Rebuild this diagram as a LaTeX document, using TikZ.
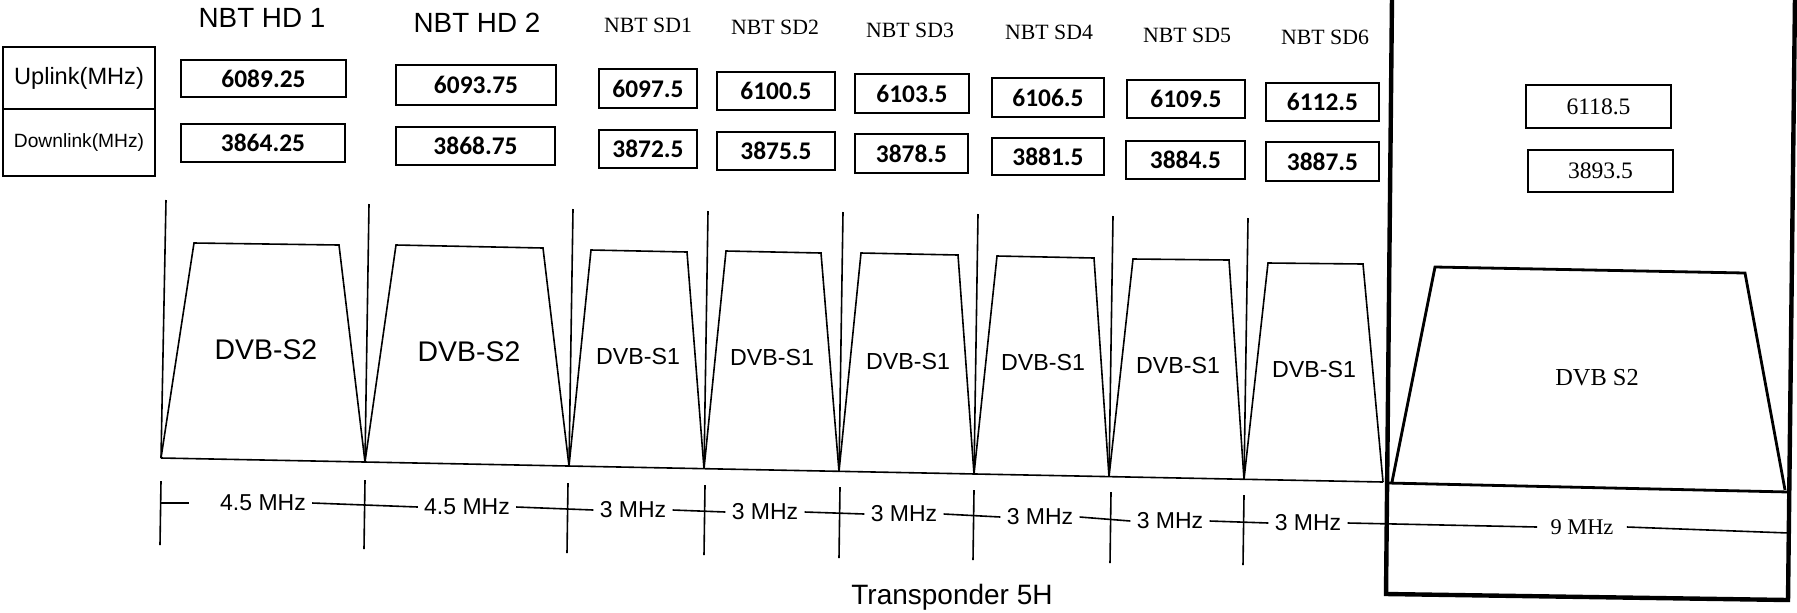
\documentclass[tikz,border=0pt]{standalone}
\usepackage{fontspec}
\setmainfont{Liberation Serif}
\newfontfamily\arialf{Liberation Sans}
\newfontfamily\calif{Carlito}
\usetikzlibrary{fit}
\begin{document}
\begin{tikzpicture}[x=0.5pt,y=-0.5pt,
  ln/.style={line width=0.8pt, line join=miter},
  cellbox/.style={draw, line width=0.8pt, inner sep=0pt},
  valtext/.style={inner sep=0pt, font=\calif\bfseries\fontsize{12.7}{15}\selectfont},
  tvaltext/.style={inner sep=0pt, font=\fontsize{11.8}{14}\selectfont},
  hdtitle/.style={font=\arialf\fontsize{13.9}{16}\selectfont, inner sep=0pt},
  sdtitle/.style={font=\fontsize{10.9}{13}\selectfont, inner sep=0pt},
  dvbtwo/.style={font=\arialf\fontsize{14.2}{16}\selectfont, inner sep=0pt},
  dvbone/.style={font=\arialf\fontsize{11.6}{14}\selectfont, inner sep=0pt},
  bwlabel/.style={font=\arialf\fontsize{11.5}{14}\selectfont, inner xsep=3pt, inner ysep=0pt},
  panelframe/.style={line width=2.2pt, line join=miter},
  panelline/.style={line width=1.4pt, line join=miter},
]
\useasboundingbox (0,0) rectangle (1797,612);

% ---------- row headers ----------
\node[cellbox, fit={(3,47) (155,109)}] (uphdr) {};
\node[cellbox, fit={(3,109) (155,176)}] (dnhdr) {};
\node[inner sep=0pt, font=\arialf\fontsize{11.8}{14}\selectfont] (uphdrt) at (uphdr.center) {Uplink(MHz)};
\node[inner sep=0pt, font=\arialf\fontsize{9.6}{12}\selectfont] (dnhdrt) at (dnhdr.center) {Downlink(MHz)};

% ---------- channel titles ----------
\node[hdtitle] (hd1) at (262,18) {NBT HD 1};
\node[hdtitle] (hd2) at (477,23) {NBT HD 2};
\node[sdtitle] (sd1) at (648,25) {NBT SD1};
\node[sdtitle] (sd2) at (775,27) {NBT SD2};
\node[sdtitle] (sd3) at (910,30) {NBT SD3};
\node[sdtitle] (sd4) at (1049,32) {NBT SD4};
\node[sdtitle] (sd5) at (1187,35) {NBT SD5};
\node[sdtitle] (sd6) at (1325,37) {NBT SD6};

% ---------- frequency boxes ----------
\node[cellbox, fit={(181,60) (346,97)}] (u1) {};
\node[cellbox, fit={(181,124) (345,162)}] (d1) {};
\node[cellbox, fit={(396,65) (556,105)}] (u2) {};
\node[cellbox, fit={(396,127) (555,165)}] (d2) {};
\node[cellbox, fit={(599,69) (697,108)}] (u3) {};
\node[cellbox, fit={(599,130) (697,168)}] (d3) {};
\node[cellbox, fit={(717,72) (835,110)}] (u4) {};
\node[cellbox, fit={(717,132) (835,170)}] (d4) {};
\node[cellbox, fit={(855,74) (969,113)}] (u5) {};
\node[cellbox, fit={(855,134) (968,173)}] (d5) {};
\node[cellbox, fit={(992,78) (1104,117)}] (u6) {};
\node[cellbox, fit={(992,138) (1104,175)}] (d6) {};
\node[cellbox, fit={(1127,80) (1245,118)}] (u7) {};
\node[cellbox, fit={(1126,141) (1245,179)}] (d7) {};
\node[cellbox, fit={(1266,83) (1379,121)}] (u8) {};
\node[cellbox, fit={(1266,142) (1379,181)}] (d8) {};
\node[cellbox, fit={(1526,85) (1671,128)}] (u9) {};
\node[cellbox, fit={(1528,150) (1673,192)}] (d9) {};

\node[valtext] (u1t) at (u1.center) {6089.25};
\node[valtext] (d1t) at (d1.center) {3864.25};
\node[valtext] (u2t) at (u2.center) {6093.75};
\node[valtext] (d2t) at (d2.center) {3868.75};
\node[valtext] (u3t) at (u3.center) {6097.5};
\node[valtext] (d3t) at (d3.center) {3872.5};
\node[valtext] (u4t) at (u4.center) {6100.5};
\node[valtext] (d4t) at (d4.center) {3875.5};
\node[valtext] (u5t) at (u5.center) {6103.5};
\node[valtext] (d5t) at (d5.center) {3878.5};
\node[valtext] (u6t) at (u6.center) {6106.5};
\node[valtext] (d6t) at (d6.center) {3881.5};
\node[valtext] (u7t) at (u7.center) {6109.5};
\node[valtext] (d7t) at (d7.center) {3884.5};
\node[valtext] (u8t) at (u8.center) {6112.5};
\node[valtext] (d8t) at (d8.center) {3887.5};
\node[tvaltext] (u9t) at (u9.center) {6118.5};
\node[tvaltext] (d9t) at (d9.center) {3893.5};

% ---------- spectrum ----------
\coordinate (B0) at (161,458);
\coordinate (B1) at (365,462);
\coordinate (B2) at (569,466);
\coordinate (B3) at (704,468.7);
\coordinate (B4) at (839,471.4);
\coordinate (B5) at (974,474);
\coordinate (B6) at (1109,476.7);
\coordinate (B7) at (1244,479.3);
\coordinate (B8) at (1383,482);

\coordinate (V0) at (166,200);
\coordinate (V1) at (369,204);
\coordinate (V2) at (573,209);
\coordinate (V3) at (708,211);
\coordinate (V4) at (843,212);
\coordinate (V5) at (978,214);
\coordinate (V6) at (1113,216);
\coordinate (V7) at (1248,218);

\foreach \i in {0,...,7} \draw[ln] (V\i) -- (B\i);
\draw[ln] (B0) -- (B8);

\draw[ln] (B0) -- (194,243) -- (339,245) -- (B1);
\draw[ln] (B1) -- (396,245) -- (543,248) -- (B2);
\draw[ln] (B2) -- (591,250) -- (687,252) -- (B3);
\draw[ln] (B3) -- (726,251) -- (821,253) -- (B4);
\draw[ln] (B4) -- (861,253) -- (958,255) -- (B5);
\draw[ln] (B5) -- (997,256) -- (1094,258) -- (B6);
\draw[ln] (B6) -- (1133,259) -- (1229,260) -- (B7);
\draw[ln] (B7) -- (1268,263) -- (1363,264) -- (B8);

\node[dvbtwo] (s1) at (266,350) {DVB-S2};
\node[dvbtwo] (s2) at (469,352) {DVB-S2};
\node[dvbone] (s3) at (638,357) {DVB-S1};
\node[dvbone] (s4) at (772,358) {DVB-S1};
\node[dvbone] (s5) at (908,362) {DVB-S1};
\node[dvbone] (s6) at (1043,363) {DVB-S1};
\node[dvbone] (s7) at (1178,366) {DVB-S1};
\node[dvbone] (s8) at (1314,370) {DVB-S1};

% ---------- right panel (9 MHz carrier) ----------
\draw[panelframe] (1392,-4) -- (1386,594) -- (1788,600) -- (1795,-4);
\coordinate (PL) at (1388,483);
\coordinate (PR) at (1789,492);
\draw[panelline] (PL) -- (PR);
\draw[panelline] (1392,482) -- (1435,267) -- (1745,273) -- (1785,490);
\node[font=\fontsize{12.2}{14}\selectfont, inner sep=0pt] (s9) at (1597,378) {DVB S2};

% ---------- bandwidth scale ----------
\coordinate (k0t) at (161,481); \coordinate (k0b) at (160,545);
\coordinate (k1t) at (365,480); \coordinate (k1b) at (364,549);
\coordinate (k2t) at (568,483); \coordinate (k2b) at (567,553);
\coordinate (k3t) at (705,485); \coordinate (k3b) at (704,555);
\coordinate (k4t) at (840,487); \coordinate (k4b) at (839,558);
\coordinate (k5t) at (974,490); \coordinate (k5b) at (973,560);
\coordinate (k6t) at (1111,492); \coordinate (k6b) at (1110,563);
\coordinate (k7t) at (1244,495); \coordinate (k7b) at (1243,565);
\foreach \i in {0,...,7} \draw[ln] (k\i t) -- (k\i b);

\node[bwlabel] (m1) at (263,503) {4.5 MHz};
\node[bwlabel] (m2) at (467,507) {4.5 MHz};
\node[bwlabel] (m3) at (633,510) {3 MHz};
\node[bwlabel] (m4) at (765,512) {3 MHz};
\node[bwlabel] (m5) at (904,514) {3 MHz};
\node[bwlabel] (m6) at (1040,517) {3 MHz};
\node[bwlabel] (m7) at (1170,521) {3 MHz};
\node[bwlabel] (m8) at (1308,523) {3 MHz};
\node[font=\fontsize{11.2}{13}\selectfont, inner xsep=6.5pt, inner ysep=0pt] (m9) at (1582,527) {9 MHz};
\coordinate (m9end) at (1789,533);
\coordinate (stub) at (189,503);

\draw[ln] (161,503) -- (stub);
\draw[ln] (m1.east) -- (m2.west);
\draw[ln] (m2.east) -- (m3.west);
\draw[ln] (m3.east) -- (m4.west);
\draw[ln] (m4.east) -- (m5.west);
\draw[ln] (m5.east) -- (m6.west);
\draw[ln] (m6.east) -- (m7.west);
\draw[ln] (m7.east) -- (m8.west);
\draw[ln] (m8.east) -- (m9.west);
\draw[ln] (m9.east) -- (m9end);

\node[font=\arialf\fontsize{14}{17}\selectfont, anchor=base, inner sep=0pt] (tp) at (952,604) {Transponder 5H};
\end{tikzpicture}
\end{document}
